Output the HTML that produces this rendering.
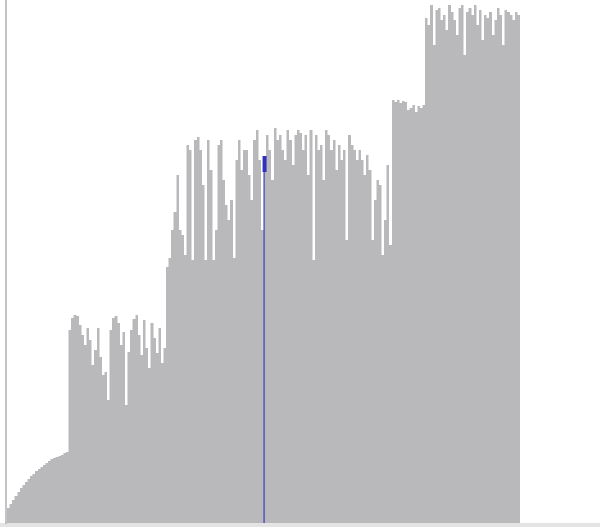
<!DOCTYPE html>
<html><head><meta charset="utf-8"><style>
html,body{margin:0;padding:0;background:#fff;width:600px;height:530px;overflow:hidden}
svg{display:block}
</style></head><body>
<svg id="chart" width="600" height="530">
<rect x="0" y="523" width="600" height="4" fill="#e4e4e4"/>
<line x1="6" y1="0" x2="6" y2="524" stroke="#b0b0b0" stroke-width="1.5"/>
<g id="bars"></g>
<g id="marker"></g>
</svg>
<script>
const rampTops = [508,504,500,496,492,488,485,482,479,476,474,471,469,467,465,463,461,459,458,457,456,455,453,452];
const lowTops = [330,318,315,316,325,335,345,328,340,365,350,328,357,375,372,400,330,318,316,323,345,332,405,352,330,319,315,335,355,320,348,368,323,338,353,328,363,348];
const midTops = [267,258,230,212,175,230,235,255,145,150,260,140,137,150,185,260,140,170,260,230,145,140,180,205,220,200,258,160,140,170,150,150,175,200,140,130,160,230,162];
const highTops = [135,150,180,128,140,135,150,160,130,140,165,135,130,133,150,135,175,130,260,135,150,145,180,130,135,150,140,170,145,160,150,240,135,145,150,160,150,160,175,155,170,240,200,180,185,255,220,165,245];
const plateauTops = [100,102,100,103,101,102,110,108,105,112,106,108,105];
const topTops = [18,25,5,45,10,8,20,15,30,5,12,20,35,8,5,55,12,8,15,5,25,10,40,15,18,12,35,20,8,15,45,10,12,15,20,12,15];
const values = [].concat(rampTops,lowTops,midTops,highTops,plateauTops,topTops).map(t => 523 - t);
const selectedIndex = 101;

const x0 = 7, x1 = 520, base = 523;
const step = (x1 - x0) / values.length;
const xScale = i => x0 + i * step;
const yScale = v => base - v;
const ns = "http://www.w3.org/2000/svg";
const g = document.getElementById('bars');
values.forEach((v, i) => {
  const r = document.createElementNS(ns, 'rect');
  r.setAttribute('x', xScale(i));
  r.setAttribute('y', yScale(v));
  r.setAttribute('width', step * 1.02);
  r.setAttribute('height', base - yScale(v));
  r.setAttribute('fill', '#b9b8ba');
  r.setAttribute('shape-rendering', 'crispEdges');
  
  
  g.appendChild(r);
});
const m = document.getElementById('marker');
const mx = xScale(selectedIndex) - 2;
const ln = document.createElementNS(ns, 'line');
ln.setAttribute('x1', mx); ln.setAttribute('x2', mx);
ln.setAttribute('y1', 160); ln.setAttribute('y2', base);
ln.setAttribute('stroke', '#3a3ac8'); ln.setAttribute('stroke-width', '1.2');


m.appendChild(ln);
const hd = document.createElementNS(ns, 'rect');
hd.setAttribute('x', mx - 1.5); hd.setAttribute('y', 156);
hd.setAttribute('width', 4); hd.setAttribute('height', 16);
hd.setAttribute('fill', '#2f2fc0');


m.appendChild(hd);
</script>
</body></html>
